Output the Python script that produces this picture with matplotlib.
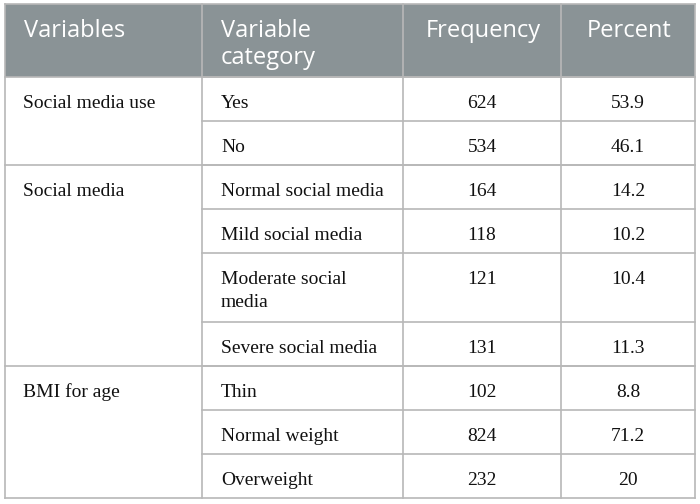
import matplotlib.pyplot as plt

# table content
headers = ["Variables", "Variable\ncategory", "Frequency", "Percent"]
variables = ["Social media use", "Social media", "BMI for age"]
group_sizes = [2, 4, 3]
categories = ["Yes", "No", "Normal social media", "Mild social media",
              "Moderate social\nmedia", "Severe social media",
              "Thin", "Normal weight", "Overweight"]
frequency = [624, 534, 164, 118, 121, 131, 102, 824, 232]
percent = ["53.9", "46.1", "14.2", "10.2", "10.4", "11.3", "8.8", "71.2", "20"]

# layout in pixels
col_edges = [5, 202, 403, 561, 695]
top = 4
header_h = 73
line_h = 25
single_h = 44
base_off = 31
header_col = "#8a9396"
grid_col = "#b8b8b8"
text_col = "#111111"
serif = "Liberation Serif"
sans = "Open Sans"

fig = plt.figure(figsize=(7, 5.04), dpi=100)
ax = fig.add_axes([0, 0, 1, 1])
ax.set_xlim(0, 700)
ax.set_ylim(504, 0)
ax.axis("off")

# row boundaries
row_tops = []
y = top + header_h
for c in categories:
    row_tops.append(y)
    y += single_h + line_h * (c.count("\n"))
bottom = y

# header
ax.add_patch(plt.Rectangle((col_edges[0], top), col_edges[-1] - col_edges[0], header_h,
                           facecolor=header_col, edgecolor="none", zorder=0))
for i, h in enumerate(headers):
    if i < 2:
        x, ha = col_edges[i] + 19, "left"
    else:
        x, ha = (col_edges[i] + col_edges[i + 1]) / 2 + 1, "center"
    for k, part in enumerate(h.split("\n")):
        ax.text(x, top + 33 + k * 27, part, ha=ha, va="baseline",
                color="white", fontsize=17, family=sans)

# body rows
for r, cat in enumerate(categories):
    yt = row_tops[r] + base_off
    for k, part in enumerate(cat.split("\n")):
        ax.text(col_edges[1] + 19, yt + k * 23, part, ha="left", va="baseline",
                fontsize=14, family=serif, color=text_col)
    ax.text((col_edges[2] + col_edges[3]) / 2, yt, str(frequency[r]), ha="center",
            va="baseline", fontsize=14, family=serif, color=text_col)
    ax.text((col_edges[3] + col_edges[4]) / 2, yt, percent[r], ha="center",
            va="baseline", fontsize=14, family=serif, color=text_col)
    # row separator for category columns
    ax.plot([col_edges[1], col_edges[-1]], [row_tops[r], row_tops[r]],
            color=grid_col, lw=1.2, zorder=2)

# group labels and group separators
start = 0
for v, n in zip(variables, group_sizes):
    yt = row_tops[start]
    ax.text(col_edges[0] + 18, yt + base_off, v, ha="left", va="baseline",
            fontsize=14, family=serif, color=text_col)
    ax.plot([col_edges[0], col_edges[-1]], [yt, yt], color=grid_col, lw=1.2, zorder=2)
    start += n

# outer border and column lines
ax.plot([col_edges[0], col_edges[-1]], [bottom, bottom], color=grid_col, lw=1.2)
ax.plot([col_edges[0], col_edges[-1]], [top, top], color=grid_col, lw=1.2)
for x in col_edges:
    ax.plot([x, x], [top, bottom], color=grid_col, lw=1.2, zorder=2)

fig.savefig("out.png", dpi=100)
